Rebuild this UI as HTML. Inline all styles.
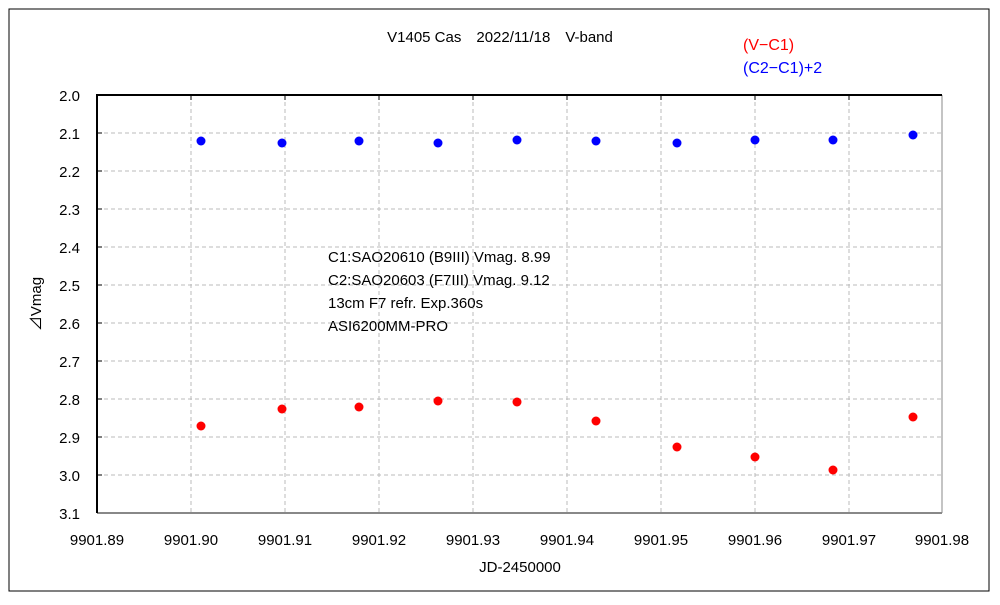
<!DOCTYPE html>
<html><head><meta charset="utf-8"><style>
body{margin:0;background:#fff;}
text{font-family:"Liberation Sans","Noto Sans CJK JP",sans-serif;font-size:15px;fill:#000;}
</style></head><body>
<svg width="1000" height="600" xmlns="http://www.w3.org/2000/svg">
<rect x="9" y="9" width="980" height="582" fill="#fff" stroke="#000" stroke-width="1"/>
<g stroke="#bbb" stroke-dasharray="4,3" stroke-width="1">
<line x1="97" y1="133" x2="942" y2="133"/><line x1="97" y1="171" x2="942" y2="171"/>
<line x1="97" y1="209" x2="942" y2="209"/><line x1="97" y1="247" x2="942" y2="247"/>
<line x1="97" y1="285" x2="942" y2="285"/><line x1="97" y1="323" x2="942" y2="323"/>
<line x1="97" y1="361" x2="942" y2="361"/><line x1="97" y1="399" x2="942" y2="399"/>
<line x1="97" y1="437" x2="942" y2="437"/><line x1="97" y1="475" x2="942" y2="475"/>
<line x1="191" y1="95" x2="191" y2="513"/><line x1="285" y1="95" x2="285" y2="513"/>
<line x1="379" y1="95" x2="379" y2="513"/><line x1="473" y1="95" x2="473" y2="513"/>
<line x1="567" y1="95" x2="567" y2="513"/><line x1="661" y1="95" x2="661" y2="513"/>
<line x1="755" y1="95" x2="755" y2="513"/><line x1="849" y1="95" x2="849" y2="513"/>
</g>
<line x1="97" y1="513" x2="942" y2="513" stroke="#888" stroke-width="2"/>
<line x1="942" y1="95" x2="942" y2="513" stroke="#888" stroke-width="1"/>
<line x1="96" y1="95" x2="942" y2="95" stroke="#000" stroke-width="2"/>
<line x1="97" y1="95" x2="97" y2="513" stroke="#000" stroke-width="2"/>
<g stroke="#000" stroke-width="1">
<line x1="191" y1="95" x2="191" y2="100"/><line x1="285" y1="95" x2="285" y2="100"/>
<line x1="379" y1="95" x2="379" y2="100"/><line x1="473" y1="95" x2="473" y2="100"/>
<line x1="567" y1="95" x2="567" y2="100"/><line x1="661" y1="95" x2="661" y2="100"/>
<line x1="755" y1="95" x2="755" y2="100"/><line x1="849" y1="95" x2="849" y2="100"/>
<line x1="97" y1="133" x2="102" y2="133"/><line x1="97" y1="171" x2="102" y2="171"/>
<line x1="97" y1="209" x2="102" y2="209"/><line x1="97" y1="247" x2="102" y2="247"/>
<line x1="97" y1="285" x2="102" y2="285"/><line x1="97" y1="323" x2="102" y2="323"/>
<line x1="97" y1="361" x2="102" y2="361"/><line x1="97" y1="399" x2="102" y2="399"/>
<line x1="97" y1="437" x2="102" y2="437"/><line x1="97" y1="475" x2="102" y2="475"/>
</g>
<g text-anchor="end">
<text x="80" y="101">2.0</text><text x="80" y="139">2.1</text><text x="80" y="177">2.2</text>
<text x="80" y="215">2.3</text><text x="80" y="253">2.4</text><text x="80" y="291">2.5</text>
<text x="80" y="329">2.6</text><text x="80" y="367">2.7</text><text x="80" y="405">2.8</text>
<text x="80" y="443">2.9</text><text x="80" y="481">3.0</text><text x="80" y="519">3.1</text>
</g>
<g text-anchor="middle">
<text x="97" y="545">9901.89</text><text x="191" y="545">9901.90</text><text x="285" y="545">9901.91</text>
<text x="379" y="545">9901.92</text><text x="473" y="545">9901.93</text><text x="567" y="545">9901.94</text>
<text x="661" y="545">9901.95</text><text x="755" y="545">9901.96</text><text x="849" y="545">9901.97</text>
<text x="942" y="545">9901.98</text>
<text x="520" y="572">JD-2450000</text>
<text x="500" y="42">V1405 Cas　2022/11/18　V-band</text>
</g>
<text transform="translate(41,304) rotate(-90)" text-anchor="middle">⊿Vmag</text>
<text x="743" y="50" style="fill:#f00;font-size:16px">(V−C1)</text>
<text x="743" y="73" style="fill:#00f;font-size:16px">(C2−C1)+2</text>
<text x="328" y="262">C1:SAO20610 (B9III) Vmag. 8.99</text>
<text x="328" y="285">C2:SAO20603 (F7III) Vmag. 9.12</text>
<text x="328" y="308">13cm F7 refr.  Exp.360s</text>
<text x="328" y="331">ASI6200MM-PRO</text>
<g fill="#00f">
<circle cx="201" cy="141" r="4.5"/><circle cx="282" cy="143" r="4.5"/><circle cx="359" cy="141" r="4.5"/>
<circle cx="438" cy="143" r="4.5"/><circle cx="517" cy="140" r="4.5"/><circle cx="596" cy="141" r="4.5"/>
<circle cx="677" cy="143" r="4.5"/><circle cx="755" cy="140" r="4.5"/><circle cx="833" cy="140" r="4.5"/>
<circle cx="913" cy="135" r="4.5"/>
</g>
<g fill="#f00">
<circle cx="201" cy="426" r="4.5"/><circle cx="282" cy="409" r="4.5"/><circle cx="359" cy="407" r="4.5"/>
<circle cx="438" cy="401" r="4.5"/><circle cx="517" cy="402" r="4.5"/><circle cx="596" cy="421" r="4.5"/>
<circle cx="677" cy="447" r="4.5"/><circle cx="755" cy="457" r="4.5"/><circle cx="833" cy="470" r="4.5"/>
<circle cx="913" cy="417" r="4.5"/>
</g>
</svg>
</body></html>
